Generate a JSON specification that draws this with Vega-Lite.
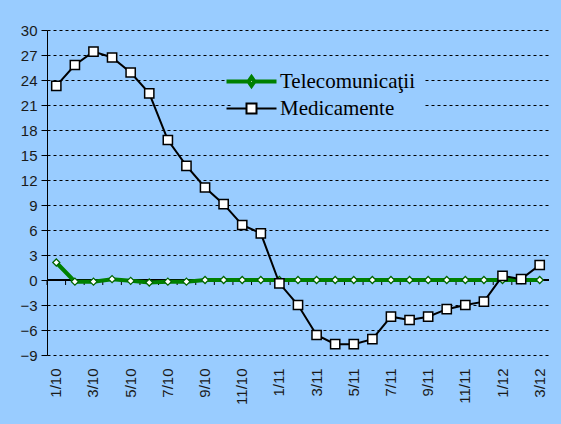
{
  "$schema": "https://vega.github.io/schema/vega-lite/v6.json",
  "width": 502,
  "height": 325,
  "autosize": {"type": "none"},
  "padding": {"left": 47, "top": 30, "right": 12, "bottom": 69},
  "background": "#99CCFF",
  "config": {
    "view": {"stroke": null},
    "axis": {"labelFont": "Liberation Sans", "labelFontSize": 15, "labelColor": "#1a1a1a", "title": null}
  },
  "datasets": {
    "d": [
      {"m": "1/10", "s": "Telecomunicaţii", "v": 2.1},
      {"m": "2/10", "s": "Telecomunicaţii", "v": -0.2},
      {"m": "3/10", "s": "Telecomunicaţii", "v": -0.2},
      {"m": "4/10", "s": "Telecomunicaţii", "v": 0.1},
      {"m": "5/10", "s": "Telecomunicaţii", "v": -0.1},
      {"m": "6/10", "s": "Telecomunicaţii", "v": -0.3},
      {"m": "7/10", "s": "Telecomunicaţii", "v": -0.2},
      {"m": "8/10", "s": "Telecomunicaţii", "v": -0.2},
      {"m": "9/10", "s": "Telecomunicaţii", "v": 0.0},
      {"m": "10/10", "s": "Telecomunicaţii", "v": 0.0},
      {"m": "11/10", "s": "Telecomunicaţii", "v": 0.0},
      {"m": "12/10", "s": "Telecomunicaţii", "v": 0.0},
      {"m": "1/11", "s": "Telecomunicaţii", "v": 0.0},
      {"m": "2/11", "s": "Telecomunicaţii", "v": 0.0},
      {"m": "3/11", "s": "Telecomunicaţii", "v": 0.0},
      {"m": "4/11", "s": "Telecomunicaţii", "v": 0.0},
      {"m": "5/11", "s": "Telecomunicaţii", "v": 0.0},
      {"m": "6/11", "s": "Telecomunicaţii", "v": 0.0},
      {"m": "7/11", "s": "Telecomunicaţii", "v": 0.0},
      {"m": "8/11", "s": "Telecomunicaţii", "v": 0.0},
      {"m": "9/11", "s": "Telecomunicaţii", "v": 0.0},
      {"m": "10/11", "s": "Telecomunicaţii", "v": 0.0},
      {"m": "11/11", "s": "Telecomunicaţii", "v": 0.0},
      {"m": "12/11", "s": "Telecomunicaţii", "v": 0.0},
      {"m": "1/12", "s": "Telecomunicaţii", "v": 0.0},
      {"m": "2/12", "s": "Telecomunicaţii", "v": 0.0},
      {"m": "3/12", "s": "Telecomunicaţii", "v": 0.0},
      {"m": "1/10", "s": "Medicamente", "v": 23.3},
      {"m": "2/10", "s": "Medicamente", "v": 25.8},
      {"m": "3/10", "s": "Medicamente", "v": 27.4},
      {"m": "4/10", "s": "Medicamente", "v": 26.7},
      {"m": "5/10", "s": "Medicamente", "v": 24.9},
      {"m": "6/10", "s": "Medicamente", "v": 22.4},
      {"m": "7/10", "s": "Medicamente", "v": 16.8},
      {"m": "8/10", "s": "Medicamente", "v": 13.7},
      {"m": "9/10", "s": "Medicamente", "v": 11.1},
      {"m": "10/10", "s": "Medicamente", "v": 9.1},
      {"m": "11/10", "s": "Medicamente", "v": 6.6},
      {"m": "12/10", "s": "Medicamente", "v": 5.6},
      {"m": "1/11", "s": "Medicamente", "v": -0.4},
      {"m": "2/11", "s": "Medicamente", "v": -3.0},
      {"m": "3/11", "s": "Medicamente", "v": -6.6},
      {"m": "4/11", "s": "Medicamente", "v": -7.7},
      {"m": "5/11", "s": "Medicamente", "v": -7.7},
      {"m": "6/11", "s": "Medicamente", "v": -7.1},
      {"m": "7/11", "s": "Medicamente", "v": -4.4},
      {"m": "8/11", "s": "Medicamente", "v": -4.8},
      {"m": "9/11", "s": "Medicamente", "v": -4.4},
      {"m": "10/11", "s": "Medicamente", "v": -3.5},
      {"m": "11/11", "s": "Medicamente", "v": -3.0},
      {"m": "12/11", "s": "Medicamente", "v": -2.6},
      {"m": "1/12", "s": "Medicamente", "v": 0.5},
      {"m": "2/12", "s": "Medicamente", "v": 0.1},
      {"m": "3/12", "s": "Medicamente", "v": 1.8}
    ]
  },
  "data": {"name": "d"},
  "encoding": {
    "x": {
      "field": "m", "type": "ordinal", "sort": null,
      "scale": {"paddingInner": 0, "paddingOuter": 0},
      "axis": {
        "values": ["1/10","3/10","5/10","7/10","9/10","11/10","1/11","3/11","5/11","7/11","9/11","11/11","1/12","3/12"],
        "labelAngle": -90, "labelAlign": "right", "labelBaseline": "middle",
        "labelPadding": 13, "ticks": false, "domain": false, "grid": false
      }
    },
    "y": {
      "field": "v", "type": "quantitative",
      "scale": {"domain": [-9, 30], "nice": false, "zero": false},
      "axis": {
        "values": [-9,-6,-3,0,3,6,9,12,15,18,21,24,27,30],
        "grid": true, "gridColor": "#000000", "gridDash": [3, 3], "gridWidth": 1,
        "domainColor": "#000000", "tickColor": "#000000", "tickSize": 6, "labelPadding": 4
      }
    }
  },
  "layer": [
    {
      "transform": [{"filter": "datum.s === 'Medicamente'"}],
      "mark": {"type": "rule", "color": "#000000", "strokeWidth": 1},
      "encoding": {
        "x": {"field": "m", "type": "ordinal", "sort": null, "bandPosition": 0},
        "y": {"datum": 0},
        "y2": {"datum": -0.6}
      }
    },
    {
      "mark": {"type": "rule", "color": "#000000", "strokeWidth": 1},
      "encoding": {"x": null, "y": {"datum": 0}}
    },
    {
      "transform": [{"filter": "datum.s === 'Telecomunicaţii'"}],
      "mark": {"type": "line", "strokeWidth": 4},
      "encoding": {
        "color": {
          "field": "s", "type": "nominal",
          "scale": {"domain": ["Telecomunicaţii", "Medicamente"], "range": ["#008000", "#000000"]},
          "legend": {
            "orient": "none", "legendX": 184, "legendY": 31, "padding": 10,
            "fillColor": "#99CCFF", "title": null,
            "labelFont": "Liberation Serif", "labelFontSize": 21, "labelColor": "#000000", "labelLimit": 300,
            "symbolSize": 2500, "symbolStrokeWidth": 2, "labelOffset": 18, "rowPadding": 3,
            "encode": {
              "symbols": {
                "update": {
                  "shape": {"signal": "datum.value === 'Medicamente' ? 'M-1,0H-0.2M0.2,0H1M-0.2,-0.2H0.2V0.2H-0.2Z' : 'M-1,0H-0.12M0.12,0H1M0,-0.17L0.12,0L0,0.17L-0.12,0Z'"},
                  "strokeWidth": {"signal": "datum.value === 'Medicamente' ? 2 : 4"},
                  "fill": {"value": "#ffffff"},
                  "opacity": {"value": 1}
                }
              }
            }
          }
        }
      }
    },
    {
      "transform": [{"filter": "datum.s === 'Telecomunicaţii'"}],
      "mark": {"type": "point", "shape": "diamond", "size": 50, "filled": true, "fill": "#ffffff", "stroke": "#006400", "strokeWidth": 1.2, "opacity": 1}
    },
    {
      "transform": [{"filter": "datum.s === 'Medicamente'"}],
      "mark": {"type": "line", "strokeWidth": 2},
      "encoding": {
        "color": {"field": "s", "type": "nominal"}
      }
    },
    {
      "transform": [{"filter": "datum.s === 'Medicamente'"}],
      "mark": {"type": "point", "shape": "square", "size": 85, "filled": true, "fill": "#ffffff", "stroke": "#000000", "strokeWidth": 1.5, "opacity": 1}
    }
  ]
}
